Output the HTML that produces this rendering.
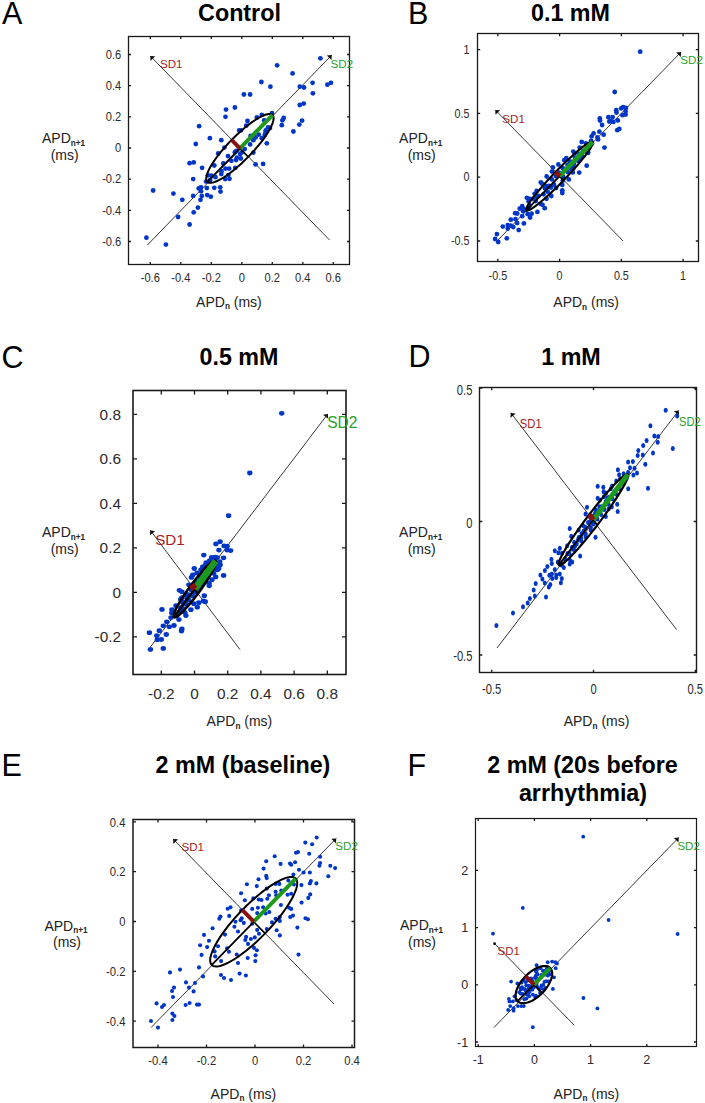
<!DOCTYPE html><html><head><meta charset="utf-8"><style>html,body{margin:0;padding:0;background:#fff;}svg{display:block;font-family:"Liberation Sans", sans-serif;}</style></head><body>
<svg width="705" height="1103" viewBox="0 0 705 1103">
<rect width="705" height="1103" fill="#fff"/>
<text x="2" y="24" font-size="30.5" text-anchor="start" font-weight="normal" fill="#000" >A</text>
<text x="408" y="24" font-size="30.5" text-anchor="start" font-weight="normal" fill="#000" >B</text>
<text x="1.4" y="368" font-size="30.5" text-anchor="start" font-weight="normal" fill="#000" >C</text>
<text x="408.5" y="367" font-size="30.5" text-anchor="start" font-weight="normal" fill="#000" >D</text>
<text x="1.6" y="776" font-size="30.5" text-anchor="start" font-weight="normal" fill="#000" >E</text>
<text x="407.6" y="775.6" font-size="30.5" text-anchor="start" font-weight="normal" fill="#000" >F</text>
<text x="239.5" y="21" font-size="23.3" text-anchor="middle" font-weight="bold" fill="#000" >Control</text>
<text x="570.5" y="21" font-size="23.3" text-anchor="middle" font-weight="bold" fill="#000" >0.1 mM</text>
<text x="239" y="365.3" font-size="23.3" text-anchor="middle" font-weight="bold" fill="#000" >0.5 mM</text>
<text x="571" y="365.3" font-size="23.3" text-anchor="middle" font-weight="bold" fill="#000" >1 mM</text>
<text x="243" y="773" font-size="23.3" text-anchor="middle" font-weight="bold" fill="#000" >2 mM (baseline)</text>
<text x="582.5" y="773" font-size="23.3" text-anchor="middle" font-weight="bold" fill="#000" >2 mM (20s before</text>
<text x="583" y="801" font-size="23.3" text-anchor="middle" font-weight="bold" fill="#000" >arrhythmia)</text>
<line x1="150.3" y1="56" x2="329.5" y2="240" stroke="#383838" stroke-width="1"/>
<path d="M150.3,56 L155.18,56.28 L150.45,60.88 Z" fill="#111"/>
<line x1="147.4" y1="245" x2="331.7" y2="55.1" stroke="#383838" stroke-width="1"/>
<path d="M331.7,55.1 L331.56,59.98 L326.82,55.39 Z" fill="#111"/>
<g fill="#0036c8"><ellipse cx="226" cy="109.6" rx="2.4" ry="2.4"/><ellipse cx="234.9" cy="107.5" rx="2.4" ry="2.4"/><ellipse cx="225.5" cy="116.8" rx="2.4" ry="2.4"/><ellipse cx="199.1" cy="126.2" rx="2.4" ry="2.4"/><ellipse cx="209.9" cy="138.2" rx="2.4" ry="2.4"/><ellipse cx="221.3" cy="140.2" rx="2.4" ry="2.4"/><ellipse cx="195.8" cy="144" rx="2.4" ry="2.4"/><ellipse cx="239.2" cy="130.4" rx="2.4" ry="2.4"/><ellipse cx="320.4" cy="58.3" rx="2.4" ry="2.4"/><ellipse cx="277.1" cy="65.3" rx="2.4" ry="2.4"/><ellipse cx="292.6" cy="73.4" rx="2.4" ry="2.4"/><ellipse cx="261.4" cy="82" rx="2.4" ry="2.4"/><ellipse cx="270.4" cy="86.7" rx="2.4" ry="2.4"/><ellipse cx="312.6" cy="82.8" rx="2.4" ry="2.4"/><ellipse cx="327.4" cy="84.7" rx="2.4" ry="2.4"/><ellipse cx="331" cy="82.8" rx="2.4" ry="2.4"/><ellipse cx="299.8" cy="86.7" rx="2.4" ry="2.4"/><ellipse cx="304" cy="87.5" rx="2.4" ry="2.4"/><ellipse cx="243.9" cy="94.5" rx="2.4" ry="2.4"/><ellipse cx="250.1" cy="94.5" rx="2.4" ry="2.4"/><ellipse cx="312.9" cy="93.3" rx="2.4" ry="2.4"/><ellipse cx="299.8" cy="105" rx="2.4" ry="2.4"/><ellipse cx="303.7" cy="103.6" rx="2.4" ry="2.4"/><ellipse cx="261.8" cy="114.8" rx="2.4" ry="2.4"/><ellipse cx="256.9" cy="117.4" rx="2.4" ry="2.4"/><ellipse cx="247.5" cy="121" rx="2.4" ry="2.4"/><ellipse cx="272" cy="113.2" rx="2.4" ry="2.4"/><ellipse cx="283.7" cy="117.9" rx="2.4" ry="2.4"/><ellipse cx="282.4" cy="120.3" rx="2.4" ry="2.4"/><ellipse cx="302.1" cy="120.6" rx="2.4" ry="2.4"/><ellipse cx="281.8" cy="125.2" rx="2.4" ry="2.4"/><ellipse cx="299.3" cy="124.6" rx="2.4" ry="2.4"/><ellipse cx="293.4" cy="131.5" rx="2.4" ry="2.4"/><ellipse cx="264.2" cy="120.3" rx="2.4" ry="2.4"/><ellipse cx="268.1" cy="127.3" rx="2.4" ry="2.4"/><ellipse cx="265.7" cy="130.4" rx="2.4" ry="2.4"/><ellipse cx="270" cy="128" rx="2.4" ry="2.4"/><ellipse cx="246.2" cy="125.7" rx="2.4" ry="2.4"/><ellipse cx="240.8" cy="130.4" rx="2.4" ry="2.4"/><ellipse cx="250.6" cy="135.9" rx="2.4" ry="2.4"/><ellipse cx="258.7" cy="134.6" rx="2.4" ry="2.4"/><ellipse cx="261.8" cy="138.2" rx="2.4" ry="2.4"/><ellipse cx="264.7" cy="135.1" rx="2.4" ry="2.4"/><ellipse cx="266.8" cy="143.3" rx="2.4" ry="2.4"/><ellipse cx="255.6" cy="137.4" rx="2.4" ry="2.4"/><ellipse cx="253.3" cy="140.2" rx="2.4" ry="2.4"/><ellipse cx="250.1" cy="144.4" rx="2.4" ry="2.4"/><ellipse cx="189.6" cy="163.2" rx="2.4" ry="2.4"/><ellipse cx="193.7" cy="162.4" rx="2.4" ry="2.4"/><ellipse cx="202.1" cy="167.8" rx="2.4" ry="2.4"/><ellipse cx="218.2" cy="153.5" rx="2.4" ry="2.4"/><ellipse cx="228" cy="156.1" rx="2.4" ry="2.4"/><ellipse cx="224.4" cy="147.6" rx="2.4" ry="2.4"/><ellipse cx="223.3" cy="163.5" rx="2.4" ry="2.4"/><ellipse cx="214.3" cy="165.5" rx="2.4" ry="2.4"/><ellipse cx="231.4" cy="160.8" rx="2.4" ry="2.4"/><ellipse cx="236.1" cy="160" rx="2.4" ry="2.4"/><ellipse cx="234.9" cy="152.2" rx="2.4" ry="2.4"/><ellipse cx="225.5" cy="168.6" rx="2.4" ry="2.4"/><ellipse cx="229.1" cy="168.6" rx="2.4" ry="2.4"/><ellipse cx="235.3" cy="167.8" rx="2.4" ry="2.4"/><ellipse cx="221.3" cy="174.1" rx="2.4" ry="2.4"/><ellipse cx="215.5" cy="177.2" rx="2.4" ry="2.4"/><ellipse cx="208" cy="175.3" rx="2.4" ry="2.4"/><ellipse cx="211.4" cy="175.6" rx="2.4" ry="2.4"/><ellipse cx="225.2" cy="179.1" rx="2.4" ry="2.4"/><ellipse cx="229.5" cy="178.8" rx="2.4" ry="2.4"/><ellipse cx="193.2" cy="179.1" rx="2.4" ry="2.4"/><ellipse cx="206.1" cy="181.6" rx="2.4" ry="2.4"/><ellipse cx="153.1" cy="190.5" rx="2.4" ry="2.4"/><ellipse cx="173.4" cy="193.6" rx="2.4" ry="2.4"/><ellipse cx="198.7" cy="188.4" rx="2.4" ry="2.4"/><ellipse cx="201" cy="187.3" rx="2.4" ry="2.4"/><ellipse cx="201" cy="191.2" rx="2.4" ry="2.4"/><ellipse cx="206.8" cy="188.1" rx="2.4" ry="2.4"/><ellipse cx="214.3" cy="187.8" rx="2.4" ry="2.4"/><ellipse cx="220.2" cy="187.3" rx="2.4" ry="2.4"/><ellipse cx="220.5" cy="191.6" rx="2.4" ry="2.4"/><ellipse cx="193.2" cy="195.9" rx="2.4" ry="2.4"/><ellipse cx="201.8" cy="195.9" rx="2.4" ry="2.4"/><ellipse cx="207.2" cy="195.1" rx="2.4" ry="2.4"/><ellipse cx="210.8" cy="196.7" rx="2.4" ry="2.4"/><ellipse cx="182.3" cy="199.8" rx="2.4" ry="2.4"/><ellipse cx="200.5" cy="199.8" rx="2.4" ry="2.4"/><ellipse cx="197.9" cy="207.6" rx="2.4" ry="2.4"/><ellipse cx="193.7" cy="212.3" rx="2.4" ry="2.4"/><ellipse cx="178.1" cy="217" rx="2.4" ry="2.4"/><ellipse cx="189.6" cy="224.5" rx="2.4" ry="2.4"/><ellipse cx="146.4" cy="237.7" rx="2.4" ry="2.4"/><ellipse cx="165.9" cy="244.6" rx="2.4" ry="2.4"/><ellipse cx="255.6" cy="164.4" rx="2.4" ry="2.4"/><ellipse cx="263.1" cy="163.9" rx="2.4" ry="2.4"/><ellipse cx="253.3" cy="152.6" rx="2.4" ry="2.4"/><ellipse cx="240.8" cy="158.5" rx="2.4" ry="2.4"/><ellipse cx="241.6" cy="152.6" rx="2.4" ry="2.4"/><ellipse cx="244.7" cy="149.1" rx="2.4" ry="2.4"/><ellipse cx="265.6" cy="132.3" rx="2.4" ry="2.4"/><ellipse cx="236.4" cy="151" rx="2.4" ry="2.4"/><ellipse cx="240.1" cy="154.1" rx="2.4" ry="2.4"/><ellipse cx="236.9" cy="157.7" rx="2.4" ry="2.4"/><ellipse cx="221.5" cy="171.2" rx="2.4" ry="2.4"/><ellipse cx="228.4" cy="175.1" rx="2.4" ry="2.4"/><ellipse cx="210.1" cy="180.2" rx="2.4" ry="2.4"/></g>
<path d="M272.57,115.02 L272.09,114.62 L271.53,114.32 L270.87,114.1 L270.13,113.99 L269.31,113.96 L268.41,114.03 L267.43,114.2 L266.37,114.45 L265.24,114.81 L264.04,115.25 L262.78,115.78 L261.45,116.41 L260.07,117.12 L258.63,117.92 L257.13,118.8 L255.59,119.76 L254.01,120.8 L252.39,121.92 L250.73,123.11 L249.05,124.36 L247.34,125.69 L245.6,127.07 L243.86,128.52 L242.1,130.02 L240.34,131.57 L238.57,133.16 L236.81,134.8 L235.06,136.47 L233.32,138.18 L231.6,139.92 L229.9,141.68 L228.23,143.45 L226.59,145.24 L224.99,147.04 L223.42,148.85 L221.91,150.65 L220.44,152.44 L219.03,154.23 L217.67,156 L216.37,157.74 L215.14,159.47 L213.98,161.16 L212.89,162.81 L211.87,164.43 L210.93,166.01 L210.06,167.53 L209.28,169 L208.59,170.42 L207.98,171.78 L207.45,173.07 L207.02,174.29 L206.67,175.44 L206.42,176.52 L206.26,177.53 L206.19,178.45 L206.21,179.29 L206.33,180.04 L206.54,180.71 L206.84,181.29 L207.23,181.78 L207.71,182.18 L208.27,182.48 L208.93,182.7 L209.67,182.81 L210.49,182.84 L211.39,182.77 L212.37,182.6 L213.43,182.35 L214.56,181.99 L215.76,181.55 L217.02,181.02 L218.35,180.39 L219.73,179.68 L221.17,178.88 L222.67,178 L224.21,177.04 L225.79,176 L227.41,174.88 L229.07,173.69 L230.75,172.44 L232.46,171.11 L234.2,169.73 L235.94,168.28 L237.7,166.78 L239.46,165.23 L241.23,163.64 L242.99,162 L244.74,160.33 L246.48,158.62 L248.2,156.88 L249.9,155.12 L251.57,153.35 L253.21,151.56 L254.81,149.76 L256.38,147.95 L257.89,146.15 L259.36,144.36 L260.77,142.57 L262.13,140.8 L263.43,139.06 L264.66,137.33 L265.82,135.64 L266.91,133.99 L267.93,132.37 L268.88,130.79 L269.74,129.27 L270.52,127.8 L271.21,126.38 L271.82,125.02 L272.35,123.73 L272.78,122.51 L273.13,121.36 L273.38,120.28 L273.54,119.27 L273.61,118.35 L273.59,117.51 L273.47,116.76 L273.26,116.09 L272.96,115.51 Z" fill="none" stroke="#000" stroke-width="2"/>
<line x1="239.9" y1="148.4" x2="207.23" y2="181.78" stroke="#000" stroke-width="1.6"/>
<line x1="239.9" y1="148.4" x2="248.2" y2="156.88" stroke="#000" stroke-width="1.6"/>
<line x1="239.9" y1="148.4" x2="272.57" y2="115.02" stroke="#1d9a1d" stroke-width="4"/>
<line x1="239.9" y1="148.4" x2="231.6" y2="139.92" stroke="#8c1010" stroke-width="4"/>
<rect x="128.5" y="36.5" width="221" height="228" fill="none" stroke="#1a1a1a" stroke-width="1.3"/>
<path d="M150.3,264.5V261.9M150.3,36.5V39.1M180.8,264.5V261.9M180.8,36.5V39.1M211.3,264.5V261.9M211.3,36.5V39.1M241.8,264.5V261.9M241.8,36.5V39.1M272.3,264.5V261.9M272.3,36.5V39.1M302.8,264.5V261.9M302.8,36.5V39.1M333.3,264.5V261.9M333.3,36.5V39.1M128.5,241.48H131.1M349.5,241.48H346.9M128.5,210.32H131.1M349.5,210.32H346.9M128.5,179.16H131.1M349.5,179.16H346.9M128.5,148H131.1M349.5,148H346.9M128.5,116.84H131.1M349.5,116.84H346.9M128.5,85.68H131.1M349.5,85.68H346.9M128.5,54.52H131.1M349.5,54.52H346.9" stroke="#1a1a1a" stroke-width="1.3" fill="none"/>
<text transform="translate(150.3,282) scale(0.89,1)" font-size="12.5" text-anchor="middle" font-weight="normal" fill="#2a2a2a" >-0.6</text>
<text transform="translate(180.8,282) scale(0.89,1)" font-size="12.5" text-anchor="middle" font-weight="normal" fill="#2a2a2a" >-0.4</text>
<text transform="translate(211.3,282) scale(0.89,1)" font-size="12.5" text-anchor="middle" font-weight="normal" fill="#2a2a2a" >-0.2</text>
<text transform="translate(241.8,282) scale(0.89,1)" font-size="12.5" text-anchor="middle" font-weight="normal" fill="#2a2a2a" >0</text>
<text transform="translate(272.3,282) scale(0.89,1)" font-size="12.5" text-anchor="middle" font-weight="normal" fill="#2a2a2a" >0.2</text>
<text transform="translate(302.8,282) scale(0.89,1)" font-size="12.5" text-anchor="middle" font-weight="normal" fill="#2a2a2a" >0.4</text>
<text transform="translate(333.3,282) scale(0.89,1)" font-size="12.5" text-anchor="middle" font-weight="normal" fill="#2a2a2a" >0.6</text>
<text transform="translate(121.3,245.78) scale(0.89,1)" font-size="12.5" text-anchor="end" font-weight="normal" fill="#2a2a2a" >-0.6</text>
<text transform="translate(121.3,214.62) scale(0.89,1)" font-size="12.5" text-anchor="end" font-weight="normal" fill="#2a2a2a" >-0.4</text>
<text transform="translate(121.3,183.46) scale(0.89,1)" font-size="12.5" text-anchor="end" font-weight="normal" fill="#2a2a2a" >-0.2</text>
<text transform="translate(121.3,152.3) scale(0.89,1)" font-size="12.5" text-anchor="end" font-weight="normal" fill="#2a2a2a" >0</text>
<text transform="translate(121.3,121.14) scale(0.89,1)" font-size="12.5" text-anchor="end" font-weight="normal" fill="#2a2a2a" >0.2</text>
<text transform="translate(121.3,89.98) scale(0.89,1)" font-size="12.5" text-anchor="end" font-weight="normal" fill="#2a2a2a" >0.4</text>
<text transform="translate(121.3,58.82) scale(0.89,1)" font-size="12.5" text-anchor="end" font-weight="normal" fill="#2a2a2a" >0.6</text>
<text x="160" y="68" font-size="11.6" text-anchor="start" font-weight="normal" fill="#a81c1c" >SD1</text>
<text x="330.6" y="68" font-size="11.6" text-anchor="start" font-weight="normal" fill="#2aa02a" >SD2</text>
<text x="42" y="143.1" font-size="14" fill="#222">APD<tspan font-size="8.2" font-weight="bold" dy="2.9">n+1</tspan></text>
<text x="50.7" y="159.8" font-size="14" fill="#222">(ms)</text>
<text x="196.1" y="306.6" font-size="14" fill="#222">APD<tspan font-size="8.2" font-weight="bold" dy="2.6">n</tspan><tspan dy="-2.6"> (ms)</tspan></text>
<line x1="495.3" y1="109.9" x2="623.1" y2="241" stroke="#383838" stroke-width="1"/>
<path d="M495.3,109.9 L500.18,110.17 L495.45,114.78 Z" fill="#111"/>
<line x1="498" y1="240" x2="681" y2="52.1" stroke="#383838" stroke-width="1"/>
<path d="M681,52.1 L680.85,56.98 L676.12,52.38 Z" fill="#111"/>
<g fill="#0036c8"><ellipse cx="546.7" cy="176.5" rx="2.4" ry="2.4"/><ellipse cx="540.8" cy="182.4" rx="2.4" ry="2.4"/><ellipse cx="542.4" cy="183.9" rx="2.4" ry="2.4"/><ellipse cx="536.6" cy="190.9" rx="2.4" ry="2.4"/><ellipse cx="534.6" cy="193.8" rx="2.4" ry="2.4"/><ellipse cx="538.4" cy="196" rx="2.4" ry="2.4"/><ellipse cx="526.9" cy="197.8" rx="2.4" ry="2.4"/><ellipse cx="529.6" cy="198.8" rx="2.4" ry="2.4"/><ellipse cx="528.6" cy="201.3" rx="2.4" ry="2.4"/><ellipse cx="532.6" cy="198.8" rx="2.4" ry="2.4"/><ellipse cx="542.5" cy="204.8" rx="2.4" ry="2.4"/><ellipse cx="544.7" cy="208.2" rx="2.4" ry="2.4"/><ellipse cx="540.6" cy="203.8" rx="2.4" ry="2.4"/><ellipse cx="537.4" cy="211.9" rx="2.4" ry="2.4"/><ellipse cx="522.2" cy="206.2" rx="2.4" ry="2.4"/><ellipse cx="519.7" cy="208.7" rx="2.4" ry="2.4"/><ellipse cx="523.7" cy="209.2" rx="2.4" ry="2.4"/><ellipse cx="523.2" cy="211.2" rx="2.4" ry="2.4"/><ellipse cx="515.2" cy="213.2" rx="2.4" ry="2.4"/><ellipse cx="517.2" cy="213.5" rx="2.4" ry="2.4"/><ellipse cx="522.2" cy="216.2" rx="2.4" ry="2.4"/><ellipse cx="527.7" cy="214.2" rx="2.4" ry="2.4"/><ellipse cx="531.6" cy="213.7" rx="2.4" ry="2.4"/><ellipse cx="530.1" cy="217.5" rx="2.4" ry="2.4"/><ellipse cx="510.8" cy="219.7" rx="2.4" ry="2.4"/><ellipse cx="515.5" cy="219.2" rx="2.4" ry="2.4"/><ellipse cx="517.2" cy="223.1" rx="2.4" ry="2.4"/><ellipse cx="523.9" cy="223.4" rx="2.4" ry="2.4"/><ellipse cx="507.8" cy="225.1" rx="2.4" ry="2.4"/><ellipse cx="502.8" cy="226.6" rx="2.4" ry="2.4"/><ellipse cx="510.8" cy="225.6" rx="2.4" ry="2.4"/><ellipse cx="513.3" cy="227.1" rx="2.4" ry="2.4"/><ellipse cx="507.8" cy="228.6" rx="2.4" ry="2.4"/><ellipse cx="518.7" cy="230.1" rx="2.4" ry="2.4"/><ellipse cx="496.9" cy="234.1" rx="2.4" ry="2.4"/><ellipse cx="506.8" cy="238.3" rx="2.4" ry="2.4"/><ellipse cx="495.1" cy="239" rx="2.4" ry="2.4"/><ellipse cx="546.5" cy="198.8" rx="2.4" ry="2.4"/><ellipse cx="545.5" cy="185.9" rx="2.4" ry="2.4"/><ellipse cx="602.1" cy="125" rx="2.4" ry="2.4"/><ellipse cx="593.6" cy="133.4" rx="2.4" ry="2.4"/><ellipse cx="599.4" cy="131.7" rx="2.4" ry="2.4"/><ellipse cx="603.6" cy="134.7" rx="2.4" ry="2.4"/><ellipse cx="591.6" cy="136.4" rx="2.4" ry="2.4"/><ellipse cx="597.4" cy="137.4" rx="2.4" ry="2.4"/><ellipse cx="598.1" cy="139.4" rx="2.4" ry="2.4"/><ellipse cx="581.7" cy="142" rx="2.4" ry="2.4"/><ellipse cx="585.9" cy="143.3" rx="2.4" ry="2.4"/><ellipse cx="591.1" cy="140.9" rx="2.4" ry="2.4"/><ellipse cx="604.5" cy="147.6" rx="2.4" ry="2.4"/><ellipse cx="579.7" cy="147.6" rx="2.4" ry="2.4"/><ellipse cx="573.3" cy="151.6" rx="2.4" ry="2.4"/><ellipse cx="574.8" cy="153.3" rx="2.4" ry="2.4"/><ellipse cx="588.2" cy="152.8" rx="2.4" ry="2.4"/><ellipse cx="566.3" cy="158.2" rx="2.4" ry="2.4"/><ellipse cx="564.3" cy="160.2" rx="2.4" ry="2.4"/><ellipse cx="569.8" cy="161.7" rx="2.4" ry="2.4"/><ellipse cx="558.4" cy="164.5" rx="2.4" ry="2.4"/><ellipse cx="552.9" cy="167.5" rx="2.4" ry="2.4"/><ellipse cx="551.9" cy="171.6" rx="2.4" ry="2.4"/><ellipse cx="586.7" cy="165.7" rx="2.4" ry="2.4"/><ellipse cx="579.2" cy="172.6" rx="2.4" ry="2.4"/><ellipse cx="572.3" cy="169.7" rx="2.4" ry="2.4"/><ellipse cx="568.8" cy="179.4" rx="2.4" ry="2.4"/><ellipse cx="562.8" cy="180.6" rx="2.4" ry="2.4"/><ellipse cx="551.9" cy="179.4" rx="2.4" ry="2.4"/><ellipse cx="555.9" cy="176.1" rx="2.4" ry="2.4"/><ellipse cx="553.9" cy="184.5" rx="2.4" ry="2.4"/><ellipse cx="548.9" cy="186" rx="2.4" ry="2.4"/><ellipse cx="578.7" cy="159.2" rx="2.4" ry="2.4"/><ellipse cx="581.7" cy="155.7" rx="2.4" ry="2.4"/><ellipse cx="585.2" cy="151.6" rx="2.4" ry="2.4"/><ellipse cx="640.2" cy="51.7" rx="2.4" ry="2.4"/><ellipse cx="614.7" cy="92" rx="2.4" ry="2.4"/><ellipse cx="616.2" cy="110.2" rx="2.4" ry="2.4"/><ellipse cx="616.5" cy="112.6" rx="2.4" ry="2.4"/><ellipse cx="621.2" cy="108.3" rx="2.4" ry="2.4"/><ellipse cx="623.1" cy="107.1" rx="2.4" ry="2.4"/><ellipse cx="625.9" cy="107.9" rx="2.4" ry="2.4"/><ellipse cx="625.6" cy="111.5" rx="2.4" ry="2.4"/><ellipse cx="622.5" cy="115.2" rx="2.4" ry="2.4"/><ellipse cx="625.6" cy="114.6" rx="2.4" ry="2.4"/><ellipse cx="599.8" cy="118.3" rx="2.4" ry="2.4"/><ellipse cx="608.4" cy="117.2" rx="2.4" ry="2.4"/><ellipse cx="612.6" cy="117.2" rx="2.4" ry="2.4"/><ellipse cx="611.1" cy="121.1" rx="2.4" ry="2.4"/><ellipse cx="613.4" cy="121.9" rx="2.4" ry="2.4"/><ellipse cx="617.8" cy="120.4" rx="2.4" ry="2.4"/><ellipse cx="617.3" cy="130.2" rx="2.4" ry="2.4"/><ellipse cx="619.3" cy="128.9" rx="2.4" ry="2.4"/><ellipse cx="600" cy="120.5" rx="2.4" ry="2.4"/><ellipse cx="609.3" cy="121.5" rx="2.4" ry="2.4"/><ellipse cx="498.2" cy="242" rx="2.4" ry="2.4"/><ellipse cx="562.3" cy="190.3" rx="2.4" ry="2.4"/><ellipse cx="562.3" cy="193" rx="2.4" ry="2.4"/><ellipse cx="562.3" cy="184.9" rx="2.4" ry="2.4"/><ellipse cx="551.3" cy="196" rx="2.4" ry="2.4"/><ellipse cx="547.6" cy="191.7" rx="2.4" ry="2.4"/><ellipse cx="556.1" cy="188" rx="2.4" ry="2.4"/><ellipse cx="573.4" cy="167.8" rx="2.4" ry="2.4"/><ellipse cx="572.8" cy="172.4" rx="2.4" ry="2.4"/><ellipse cx="550.87" cy="187.48" rx="2.4" ry="2.4"/><ellipse cx="543.54" cy="194.37" rx="2.4" ry="2.4"/><ellipse cx="535.77" cy="201.09" rx="2.4" ry="2.4"/><ellipse cx="528.66" cy="207.66" rx="2.4" ry="2.4"/><ellipse cx="544.92" cy="188.27" rx="2.4" ry="2.4"/><ellipse cx="536.66" cy="196.9" rx="2.4" ry="2.4"/><ellipse cx="529.56" cy="205.39" rx="2.4" ry="2.4"/><ellipse cx="558.95" cy="172.7" rx="2.4" ry="2.4"/><ellipse cx="563.11" cy="176.7" rx="2.4" ry="2.4"/><ellipse cx="562.84" cy="168.27" rx="2.4" ry="2.4"/><ellipse cx="567.76" cy="172.08" rx="2.4" ry="2.4"/><ellipse cx="567.56" cy="164.95" rx="2.4" ry="2.4"/><ellipse cx="570.72" cy="168.4" rx="2.4" ry="2.4"/><ellipse cx="571.08" cy="161.82" rx="2.4" ry="2.4"/><ellipse cx="573.89" cy="164.06" rx="2.4" ry="2.4"/><ellipse cx="574.93" cy="157.57" rx="2.4" ry="2.4"/><ellipse cx="577.88" cy="160.83" rx="2.4" ry="2.4"/><ellipse cx="579.42" cy="153.81" rx="2.4" ry="2.4"/><ellipse cx="581.31" cy="156.91" rx="2.4" ry="2.4"/><ellipse cx="583.1" cy="150.85" rx="2.4" ry="2.4"/><ellipse cx="587.49" cy="147.36" rx="2.4" ry="2.4"/><ellipse cx="588.81" cy="148.45" rx="2.4" ry="2.4"/><ellipse cx="592" cy="143.43" rx="2.4" ry="2.4"/></g>
<path d="M592.68,141.91 L592.43,141.74 L592.08,141.67 L591.65,141.69 L591.12,141.8 L590.51,142.01 L589.82,142.31 L589.04,142.7 L588.18,143.19 L587.24,143.77 L586.23,144.43 L585.14,145.18 L583.99,146.02 L582.76,146.94 L581.47,147.94 L580.12,149.02 L578.72,150.17 L577.26,151.4 L575.76,152.69 L574.2,154.05 L572.61,155.46 L570.99,156.94 L569.33,158.46 L567.64,160.04 L565.93,161.66 L564.21,163.32 L562.47,165.01 L560.72,166.74 L558.97,168.49 L557.23,170.26 L555.48,172.05 L553.75,173.85 L552.04,175.66 L550.34,177.46 L548.67,179.27 L547.03,181.06 L545.42,182.85 L543.86,184.61 L542.33,186.35 L540.86,188.07 L539.43,189.75 L538.06,191.39 L536.74,193 L535.49,194.55 L534.31,196.06 L533.19,197.51 L532.15,198.9 L531.18,200.23 L530.29,201.5 L529.48,202.69 L528.75,203.82 L528.11,204.86 L527.55,205.83 L527.08,206.72 L526.7,207.53 L526.41,208.24 L526.21,208.87 L526.1,209.41 L526.08,209.86 L526.15,210.22 L526.32,210.49 L526.57,210.66 L526.92,210.73 L527.35,210.71 L527.88,210.6 L528.49,210.39 L529.18,210.09 L529.96,209.7 L530.82,209.21 L531.76,208.63 L532.77,207.97 L533.86,207.22 L535.01,206.38 L536.24,205.46 L537.53,204.46 L538.88,203.38 L540.28,202.23 L541.74,201 L543.24,199.71 L544.8,198.35 L546.39,196.94 L548.01,195.46 L549.67,193.94 L551.36,192.36 L553.07,190.74 L554.79,189.08 L556.53,187.39 L558.28,185.66 L560.03,183.91 L561.77,182.14 L563.52,180.35 L565.25,178.55 L566.96,176.74 L568.66,174.94 L570.33,173.13 L571.97,171.34 L573.58,169.55 L575.14,167.79 L576.67,166.05 L578.14,164.33 L579.57,162.65 L580.94,161.01 L582.26,159.4 L583.51,157.85 L584.69,156.34 L585.81,154.89 L586.85,153.5 L587.82,152.17 L588.71,150.9 L589.52,149.71 L590.25,148.58 L590.89,147.54 L591.45,146.57 L591.92,145.68 L592.3,144.87 L592.59,144.16 L592.79,143.53 L592.9,142.99 L592.92,142.54 L592.85,142.18 Z" fill="none" stroke="#000" stroke-width="2.1"/>
<line x1="559.5" y1="176.2" x2="526.32" y2="210.49" stroke="#000" stroke-width="1.8"/>
<line x1="559.5" y1="176.2" x2="563.52" y2="180.35" stroke="#000" stroke-width="1.8"/>
<line x1="559.5" y1="176.2" x2="592.68" y2="141.91" stroke="#1d9a1d" stroke-width="4.6"/>
<line x1="559.5" y1="176.2" x2="555.48" y2="172.05" stroke="#8c1010" stroke-width="4.6"/>
<rect x="477.5" y="33.5" width="221" height="228" fill="none" stroke="#1a1a1a" stroke-width="1.3"/>
<path d="M497.85,261.5V258.8M497.85,33.5V36.2M559.6,261.5V258.8M559.6,33.5V36.2M621.35,261.5V258.8M621.35,33.5V36.2M683.1,261.5V258.8M683.1,33.5V36.2M477.5,241H480.2M698.5,241H695.8M477.5,177.2H480.2M698.5,177.2H695.8M477.5,113.4H480.2M698.5,113.4H695.8M477.5,49.6H480.2M698.5,49.6H695.8" stroke="#1a1a1a" stroke-width="1.3" fill="none"/>
<text transform="translate(497.85,279.5) scale(0.88,1)" font-size="12.2" text-anchor="middle" font-weight="normal" fill="#2a2a2a" >-0.5</text>
<text transform="translate(559.6,279.5) scale(0.88,1)" font-size="12.2" text-anchor="middle" font-weight="normal" fill="#2a2a2a" >0</text>
<text transform="translate(621.35,279.5) scale(0.88,1)" font-size="12.2" text-anchor="middle" font-weight="normal" fill="#2a2a2a" >0.5</text>
<text transform="translate(683.1,279.5) scale(0.88,1)" font-size="12.2" text-anchor="middle" font-weight="normal" fill="#2a2a2a" >1</text>
<text transform="translate(469.5,245.2) scale(0.88,1)" font-size="12.2" text-anchor="end" font-weight="normal" fill="#2a2a2a" >-0.5</text>
<text transform="translate(469.5,181.4) scale(0.88,1)" font-size="12.2" text-anchor="end" font-weight="normal" fill="#2a2a2a" >0</text>
<text transform="translate(469.5,117.6) scale(0.88,1)" font-size="12.2" text-anchor="end" font-weight="normal" fill="#2a2a2a" >0.5</text>
<text transform="translate(469.5,53.8) scale(0.88,1)" font-size="12.2" text-anchor="end" font-weight="normal" fill="#2a2a2a" >1</text>
<text x="502.3" y="122.8" font-size="11.6" text-anchor="start" font-weight="normal" fill="#a81c1c" >SD1</text>
<text x="680.3" y="64.4" font-size="11.6" text-anchor="start" font-weight="normal" fill="#2aa02a" >SD2</text>
<text x="399.1" y="142.9" font-size="14" fill="#222">APD<tspan font-size="8.2" font-weight="bold" dy="2.9">n+1</tspan></text>
<text x="407.7" y="159.6" font-size="14" fill="#222">(ms)</text>
<text x="553.3" y="306.9" font-size="14" fill="#222">APD<tspan font-size="8.2" font-weight="bold" dy="2.6">n</tspan><tspan dy="-2.6"> (ms)</tspan></text>
<line x1="150.3" y1="530.3" x2="240" y2="649.6" stroke="#383838" stroke-width="1"/>
<path d="M150.3,530.3 L155.1,531.19 L149.83,535.16 Z" fill="#111"/>
<line x1="150.4" y1="647" x2="327.8" y2="414" stroke="#383838" stroke-width="1"/>
<path d="M327.8,414 L328.24,418.86 L322.99,414.87 Z" fill="#111"/>
<g fill="#0036c8"><ellipse cx="281.7" cy="413.3" rx="2.7" ry="2.4"/><ellipse cx="249.8" cy="473" rx="2.7" ry="2.4"/><ellipse cx="228.6" cy="515.7" rx="2.7" ry="2.4"/><ellipse cx="215.9" cy="543.9" rx="2.7" ry="2.4"/><ellipse cx="220.1" cy="541.7" rx="2.7" ry="2.4"/><ellipse cx="224.1" cy="545.9" rx="2.7" ry="2.4"/><ellipse cx="227.1" cy="546.2" rx="2.7" ry="2.4"/><ellipse cx="218.9" cy="550.1" rx="2.7" ry="2.4"/><ellipse cx="227.1" cy="550.1" rx="2.7" ry="2.4"/><ellipse cx="230.6" cy="550.6" rx="2.7" ry="2.4"/><ellipse cx="203.8" cy="555.1" rx="2.7" ry="2.4"/><ellipse cx="223.6" cy="557.8" rx="2.7" ry="2.4"/><ellipse cx="211.7" cy="557.4" rx="2.7" ry="2.4"/><ellipse cx="215.2" cy="557.1" rx="2.7" ry="2.4"/><ellipse cx="217.2" cy="557.6" rx="2.7" ry="2.4"/><ellipse cx="209.7" cy="560.6" rx="2.7" ry="2.4"/><ellipse cx="213.7" cy="559.6" rx="2.7" ry="2.4"/><ellipse cx="206.2" cy="562.6" rx="2.7" ry="2.4"/><ellipse cx="219.7" cy="561.6" rx="2.7" ry="2.4"/><ellipse cx="220.1" cy="565" rx="2.7" ry="2.4"/><ellipse cx="205.3" cy="565.5" rx="2.7" ry="2.4"/><ellipse cx="194.3" cy="568.5" rx="2.7" ry="2.4"/><ellipse cx="218.7" cy="568.5" rx="2.7" ry="2.4"/><ellipse cx="192.8" cy="574.9" rx="2.7" ry="2.4"/><ellipse cx="191.4" cy="577.4" rx="2.7" ry="2.4"/><ellipse cx="197" cy="572.9" rx="2.7" ry="2.4"/><ellipse cx="204.8" cy="568" rx="2.7" ry="2.4"/><ellipse cx="218.7" cy="564" rx="2.7" ry="2.4"/><ellipse cx="223.6" cy="575.4" rx="2.7" ry="2.4"/><ellipse cx="215.7" cy="576.9" rx="2.7" ry="2.4"/><ellipse cx="209.2" cy="585.8" rx="2.7" ry="2.4"/><ellipse cx="188.9" cy="584.8" rx="2.7" ry="2.4"/><ellipse cx="179.4" cy="590.3" rx="2.7" ry="2.4"/><ellipse cx="181.9" cy="591.8" rx="2.7" ry="2.4"/><ellipse cx="204.3" cy="595.7" rx="2.7" ry="2.4"/><ellipse cx="205.3" cy="601.7" rx="2.7" ry="2.4"/><ellipse cx="198.8" cy="602.7" rx="2.7" ry="2.4"/><ellipse cx="197.3" cy="607.2" rx="2.7" ry="2.4"/><ellipse cx="190.9" cy="609.7" rx="2.7" ry="2.4"/><ellipse cx="185.9" cy="615.6" rx="2.7" ry="2.4"/><ellipse cx="181.9" cy="597.7" rx="2.7" ry="2.4"/><ellipse cx="176" cy="605.7" rx="2.7" ry="2.4"/><ellipse cx="172" cy="609.7" rx="2.7" ry="2.4"/><ellipse cx="171" cy="617.6" rx="2.7" ry="2.4"/><ellipse cx="174" cy="625.5" rx="2.7" ry="2.4"/><ellipse cx="181.9" cy="629" rx="2.7" ry="2.4"/><ellipse cx="178.9" cy="619.6" rx="2.7" ry="2.4"/><ellipse cx="184.9" cy="612.6" rx="2.7" ry="2.4"/><ellipse cx="193.8" cy="603.7" rx="2.7" ry="2.4"/><ellipse cx="162" cy="609.4" rx="2.7" ry="2.4"/><ellipse cx="171.7" cy="612.9" rx="2.7" ry="2.4"/><ellipse cx="180.7" cy="599.5" rx="2.7" ry="2.4"/><ellipse cx="166.8" cy="621.8" rx="2.7" ry="2.4"/><ellipse cx="163.3" cy="625.8" rx="2.7" ry="2.4"/><ellipse cx="169.3" cy="626.8" rx="2.7" ry="2.4"/><ellipse cx="159.3" cy="630.7" rx="2.7" ry="2.4"/><ellipse cx="149.4" cy="632.7" rx="2.7" ry="2.4"/><ellipse cx="166.3" cy="634.5" rx="2.7" ry="2.4"/><ellipse cx="156.8" cy="635.7" rx="2.7" ry="2.4"/><ellipse cx="157.3" cy="639.7" rx="2.7" ry="2.4"/><ellipse cx="161.3" cy="639.5" rx="2.7" ry="2.4"/><ellipse cx="181.5" cy="631" rx="2.7" ry="2.4"/><ellipse cx="150.4" cy="649.4" rx="2.7" ry="2.4"/><ellipse cx="163.3" cy="648.4" rx="2.7" ry="2.4"/><ellipse cx="203.5" cy="601" rx="2.7" ry="2.4"/><ellipse cx="180.7" cy="608.9" rx="2.7" ry="2.4"/><ellipse cx="217.6" cy="569.8" rx="2.7" ry="2.4"/><ellipse cx="209.1" cy="583.3" rx="2.7" ry="2.4"/><ellipse cx="202" cy="584.7" rx="2.7" ry="2.4"/><ellipse cx="196.3" cy="582.2" rx="2.7" ry="2.4"/><ellipse cx="201" cy="569.8" rx="2.7" ry="2.4"/><ellipse cx="202.7" cy="567" rx="2.7" ry="2.4"/><ellipse cx="213.7" cy="573.3" rx="2.7" ry="2.4"/><ellipse cx="215.5" cy="569.1" rx="2.7" ry="2.4"/><ellipse cx="212" cy="579.7" rx="2.7" ry="2.4"/><ellipse cx="212" cy="570" rx="2.7" ry="2.4"/><ellipse cx="200" cy="580" rx="2.7" ry="2.4"/><ellipse cx="196" cy="585" rx="2.7" ry="2.4"/><ellipse cx="186" cy="595" rx="2.7" ry="2.4"/><ellipse cx="183" cy="603" rx="2.7" ry="2.4"/><ellipse cx="201" cy="576" rx="2.7" ry="2.4"/><ellipse cx="207" cy="574" rx="2.7" ry="2.4"/><ellipse cx="194.77" cy="592.29" rx="2.7" ry="2.4"/><ellipse cx="191.53" cy="590.04" rx="2.7" ry="2.4"/><ellipse cx="192.17" cy="595.69" rx="2.7" ry="2.4"/><ellipse cx="188.51" cy="594.62" rx="2.7" ry="2.4"/><ellipse cx="188.67" cy="599.88" rx="2.7" ry="2.4"/><ellipse cx="187.09" cy="598.48" rx="2.7" ry="2.4"/><ellipse cx="186.3" cy="604.15" rx="2.7" ry="2.4"/><ellipse cx="184.07" cy="602.4" rx="2.7" ry="2.4"/><ellipse cx="183" cy="608.61" rx="2.7" ry="2.4"/><ellipse cx="181.33" cy="607.41" rx="2.7" ry="2.4"/><ellipse cx="179.98" cy="611.63" rx="2.7" ry="2.4"/><ellipse cx="176.63" cy="615.68" rx="2.7" ry="2.4"/><ellipse cx="193.68" cy="584.77" rx="2.7" ry="2.4"/><ellipse cx="198.51" cy="588.62" rx="2.7" ry="2.4"/><ellipse cx="201.01" cy="578.01" rx="2.7" ry="2.4"/><ellipse cx="204.1" cy="580.82" rx="2.7" ry="2.4"/><ellipse cx="203.64" cy="574.42" rx="2.7" ry="2.4"/><ellipse cx="206.42" cy="577.63" rx="2.7" ry="2.4"/><ellipse cx="207.78" cy="571.8" rx="2.7" ry="2.4"/><ellipse cx="209.83" cy="572.77" rx="2.7" ry="2.4"/><ellipse cx="210.5" cy="568.13" rx="2.7" ry="2.4"/><ellipse cx="214.32" cy="563.86" rx="2.7" ry="2.4"/><ellipse cx="215.23" cy="565.57" rx="2.7" ry="2.4"/></g>
<path d="M215.69,561 L215.49,560.8 L215.24,560.69 L214.92,560.65 L214.55,560.69 L214.13,560.81 L213.66,561 L213.13,561.28 L212.55,561.62 L211.92,562.05 L211.25,562.54 L210.53,563.11 L209.77,563.75 L208.97,564.46 L208.13,565.24 L207.25,566.08 L206.34,566.99 L205.39,567.95 L204.42,568.98 L203.42,570.05 L202.4,571.18 L201.36,572.36 L200.3,573.58 L199.22,574.85 L198.13,576.16 L197.03,577.5 L195.93,578.87 L194.82,580.27 L193.72,581.69 L192.61,583.14 L191.51,584.59 L190.42,586.07 L189.35,587.55 L188.29,589.03 L187.24,590.51 L186.22,591.99 L185.22,593.46 L184.24,594.92 L183.3,596.37 L182.39,597.79 L181.51,599.19 L180.66,600.56 L179.86,601.9 L179.1,603.2 L178.38,604.47 L177.7,605.69 L177.07,606.86 L176.49,607.99 L175.96,609.07 L175.49,610.09 L175.06,611.05 L174.69,611.95 L174.38,612.79 L174.12,613.57 L173.91,614.27 L173.77,614.91 L173.68,615.48 L173.65,615.97 L173.68,616.39 L173.76,616.74 L173.91,617 L174.11,617.2 L174.36,617.31 L174.68,617.35 L175.05,617.31 L175.47,617.19 L175.94,617 L176.47,616.72 L177.05,616.38 L177.68,615.95 L178.35,615.46 L179.07,614.89 L179.83,614.25 L180.63,613.54 L181.47,612.76 L182.35,611.92 L183.26,611.01 L184.21,610.05 L185.18,609.02 L186.18,607.95 L187.2,606.82 L188.24,605.64 L189.3,604.42 L190.38,603.15 L191.47,601.84 L192.57,600.5 L193.67,599.13 L194.78,597.73 L195.88,596.31 L196.99,594.86 L198.09,593.41 L199.18,591.93 L200.25,590.45 L201.31,588.97 L202.36,587.49 L203.38,586.01 L204.38,584.54 L205.36,583.08 L206.3,581.63 L207.21,580.21 L208.09,578.81 L208.94,577.44 L209.74,576.1 L210.5,574.8 L211.22,573.53 L211.9,572.31 L212.53,571.14 L213.11,570.01 L213.64,568.93 L214.11,567.91 L214.54,566.95 L214.91,566.05 L215.22,565.21 L215.48,564.43 L215.69,563.73 L215.83,563.09 L215.92,562.52 L215.95,562.03 L215.92,561.61 L215.84,561.26 Z" fill="none" stroke="#000" stroke-width="2.6"/>
<line x1="194.8" y1="589" x2="173.91" y2="617" stroke="#000" stroke-width="2.2"/>
<line x1="194.8" y1="589" x2="198.09" y2="593.41" stroke="#000" stroke-width="2.2"/>
<line x1="194.8" y1="589" x2="215.69" y2="561" stroke="#1d9a1d" stroke-width="6.4"/>
<line x1="194.8" y1="589" x2="191.51" y2="584.59" stroke="#8c1010" stroke-width="6.4"/>
<rect x="133" y="390.5" width="213" height="284" fill="none" stroke="#1a1a1a" stroke-width="1.6"/>
<path d="M161.3,674.5V670.5M161.3,390.5V394.5M194.5,674.5V670.5M194.5,390.5V394.5M227.7,674.5V670.5M227.7,390.5V394.5M260.9,674.5V670.5M260.9,390.5V394.5M294.1,674.5V670.5M294.1,390.5V394.5M327.3,674.5V670.5M327.3,390.5V394.5M133,636.9H137M346,636.9H342M133,592.4H137M346,592.4H342M133,547.9H137M346,547.9H342M133,503.4H137M346,503.4H342M133,458.9H137M346,458.9H342M133,414.4H137M346,414.4H342" stroke="#1a1a1a" stroke-width="1.3" fill="none"/>
<text transform="translate(161.3,698.6) scale(1.04,1)" font-size="14.8" text-anchor="middle" font-weight="normal" fill="#2a2a2a" >-0.2</text>
<text transform="translate(194.5,698.6) scale(1.04,1)" font-size="14.8" text-anchor="middle" font-weight="normal" fill="#2a2a2a" >0</text>
<text transform="translate(227.7,698.6) scale(1.04,1)" font-size="14.8" text-anchor="middle" font-weight="normal" fill="#2a2a2a" >0.2</text>
<text transform="translate(260.9,698.6) scale(1.04,1)" font-size="14.8" text-anchor="middle" font-weight="normal" fill="#2a2a2a" >0.4</text>
<text transform="translate(294.1,698.6) scale(1.04,1)" font-size="14.8" text-anchor="middle" font-weight="normal" fill="#2a2a2a" >0.6</text>
<text transform="translate(327.3,698.6) scale(1.04,1)" font-size="14.8" text-anchor="middle" font-weight="normal" fill="#2a2a2a" >0.8</text>
<text transform="translate(121,642) scale(1.04,1)" font-size="14.8" text-anchor="end" font-weight="normal" fill="#2a2a2a" >-0.2</text>
<text transform="translate(121,597.5) scale(1.04,1)" font-size="14.8" text-anchor="end" font-weight="normal" fill="#2a2a2a" >0</text>
<text transform="translate(121,553) scale(1.04,1)" font-size="14.8" text-anchor="end" font-weight="normal" fill="#2a2a2a" >0.2</text>
<text transform="translate(121,508.5) scale(1.04,1)" font-size="14.8" text-anchor="end" font-weight="normal" fill="#2a2a2a" >0.4</text>
<text transform="translate(121,464) scale(1.04,1)" font-size="14.8" text-anchor="end" font-weight="normal" fill="#2a2a2a" >0.6</text>
<text transform="translate(121,419.5) scale(1.04,1)" font-size="14.8" text-anchor="end" font-weight="normal" fill="#2a2a2a" >0.8</text>
<text x="155.2" y="545.2" font-size="15.2" text-anchor="start" font-weight="normal" fill="#a81c1c" >SD1</text>
<text x="327.2" y="428.4" font-size="15.6" text-anchor="start" font-weight="normal" fill="#2aa02a" >SD2</text>
<text x="42" y="536.6" font-size="14" fill="#222">APD<tspan font-size="8.2" font-weight="bold" dy="2.9">n+1</tspan></text>
<text x="50.7" y="553.7" font-size="14" fill="#222">(ms)</text>
<text x="206.6" y="726.4" font-size="14" fill="#222">APD<tspan font-size="8.2" font-weight="bold" dy="2.6">n</tspan><tspan dy="-2.6"> (ms)</tspan></text>
<line x1="510.8" y1="412.8" x2="676.6" y2="629.6" stroke="#383838" stroke-width="1"/>
<path d="M510.8,412.8 L515.61,413.65 L510.37,417.66 Z" fill="#111"/>
<line x1="497" y1="648" x2="678.7" y2="410.5" stroke="#383838" stroke-width="1"/>
<path d="M678.7,410.5 L679.13,415.36 L673.89,411.35 Z" fill="#111"/>
<g fill="#0036c8"><ellipse cx="665.7" cy="410.3" rx="2.0" ry="2.5"/><ellipse cx="677.2" cy="416.1" rx="2.0" ry="2.5"/><ellipse cx="650.4" cy="425.7" rx="2.0" ry="2.5"/><ellipse cx="654.3" cy="435.9" rx="2.0" ry="2.5"/><ellipse cx="658.1" cy="436.5" rx="2.0" ry="2.5"/><ellipse cx="657.7" cy="442.3" rx="2.0" ry="2.5"/><ellipse cx="646.6" cy="440.6" rx="2.0" ry="2.5"/><ellipse cx="643.2" cy="445.4" rx="2.0" ry="2.5"/><ellipse cx="638.3" cy="450.6" rx="2.0" ry="2.5"/><ellipse cx="637.7" cy="455.4" rx="2.0" ry="2.5"/><ellipse cx="642.8" cy="455" rx="2.0" ry="2.5"/><ellipse cx="653" cy="452.9" rx="2.0" ry="2.5"/><ellipse cx="672.8" cy="448.6" rx="2.0" ry="2.5"/><ellipse cx="645.3" cy="464.3" rx="2.0" ry="2.5"/><ellipse cx="628.1" cy="462" rx="2.0" ry="2.5"/><ellipse cx="632.9" cy="461.4" rx="2.0" ry="2.5"/><ellipse cx="630" cy="467.8" rx="2.0" ry="2.5"/><ellipse cx="634.5" cy="468.2" rx="2.0" ry="2.5"/><ellipse cx="617.9" cy="469.7" rx="2.0" ry="2.5"/><ellipse cx="619.1" cy="474.8" rx="2.0" ry="2.5"/><ellipse cx="623.6" cy="473.8" rx="2.0" ry="2.5"/><ellipse cx="628.1" cy="472.3" rx="2.0" ry="2.5"/><ellipse cx="633.4" cy="475.1" rx="2.0" ry="2.5"/><ellipse cx="637" cy="472.9" rx="2.0" ry="2.5"/><ellipse cx="616.2" cy="480.9" rx="2.0" ry="2.5"/><ellipse cx="597.7" cy="486.3" rx="2.0" ry="2.5"/><ellipse cx="603.3" cy="487.3" rx="2.0" ry="2.5"/><ellipse cx="603.6" cy="491.8" rx="2.0" ry="2.5"/><ellipse cx="610.8" cy="488.8" rx="2.0" ry="2.5"/><ellipse cx="628.2" cy="488.8" rx="2.0" ry="2.5"/><ellipse cx="648" cy="488.3" rx="2.0" ry="2.5"/><ellipse cx="597.7" cy="498.2" rx="2.0" ry="2.5"/><ellipse cx="603.8" cy="496.7" rx="2.0" ry="2.5"/><ellipse cx="607.3" cy="497.7" rx="2.0" ry="2.5"/><ellipse cx="617.2" cy="504.2" rx="2.0" ry="2.5"/><ellipse cx="617.7" cy="511.6" rx="2.0" ry="2.5"/><ellipse cx="587" cy="507.2" rx="2.0" ry="2.5"/><ellipse cx="599.4" cy="506.7" rx="2.0" ry="2.5"/><ellipse cx="585.5" cy="514.1" rx="2.0" ry="2.5"/><ellipse cx="594.9" cy="513.6" rx="2.0" ry="2.5"/><ellipse cx="608.8" cy="508.7" rx="2.0" ry="2.5"/><ellipse cx="611.8" cy="506.7" rx="2.0" ry="2.5"/><ellipse cx="605.8" cy="516.6" rx="2.0" ry="2.5"/><ellipse cx="588" cy="522.6" rx="2.0" ry="2.5"/><ellipse cx="583" cy="525.5" rx="2.0" ry="2.5"/><ellipse cx="590.9" cy="527.5" rx="2.0" ry="2.5"/><ellipse cx="569.7" cy="528.4" rx="2.0" ry="2.5"/><ellipse cx="578.7" cy="529.9" rx="2.0" ry="2.5"/><ellipse cx="583.6" cy="530.9" rx="2.0" ry="2.5"/><ellipse cx="585.1" cy="526.9" rx="2.0" ry="2.5"/><ellipse cx="590.6" cy="529.9" rx="2.0" ry="2.5"/><ellipse cx="595.5" cy="537.3" rx="2.0" ry="2.5"/><ellipse cx="571.2" cy="536.3" rx="2.0" ry="2.5"/><ellipse cx="581.6" cy="533.8" rx="2.0" ry="2.5"/><ellipse cx="585.6" cy="536.8" rx="2.0" ry="2.5"/><ellipse cx="578.2" cy="539.3" rx="2.0" ry="2.5"/><ellipse cx="581.1" cy="540.8" rx="2.0" ry="2.5"/><ellipse cx="574.2" cy="542.3" rx="2.0" ry="2.5"/><ellipse cx="567.2" cy="545.7" rx="2.0" ry="2.5"/><ellipse cx="575.2" cy="545.7" rx="2.0" ry="2.5"/><ellipse cx="574.2" cy="550.2" rx="2.0" ry="2.5"/><ellipse cx="559.8" cy="548.2" rx="2.0" ry="2.5"/><ellipse cx="554.8" cy="550.7" rx="2.0" ry="2.5"/><ellipse cx="558.3" cy="552.7" rx="2.0" ry="2.5"/><ellipse cx="561.8" cy="553.2" rx="2.0" ry="2.5"/><ellipse cx="580.1" cy="555.9" rx="2.0" ry="2.5"/><ellipse cx="551.4" cy="559.2" rx="2.0" ry="2.5"/><ellipse cx="551.8" cy="563.6" rx="2.0" ry="2.5"/><ellipse cx="557.8" cy="562.1" rx="2.0" ry="2.5"/><ellipse cx="570.2" cy="560.6" rx="2.0" ry="2.5"/><ellipse cx="572.2" cy="562.1" rx="2.0" ry="2.5"/><ellipse cx="569.7" cy="564.1" rx="2.0" ry="2.5"/><ellipse cx="563.8" cy="567.4" rx="2.0" ry="2.5"/><ellipse cx="547.4" cy="566.6" rx="2.0" ry="2.5"/><ellipse cx="544.9" cy="570.6" rx="2.0" ry="2.5"/><ellipse cx="554.8" cy="569.4" rx="2.0" ry="2.5"/><ellipse cx="540.4" cy="575" rx="2.0" ry="2.5"/><ellipse cx="549.4" cy="575.3" rx="2.0" ry="2.5"/><ellipse cx="556.3" cy="575" rx="2.0" ry="2.5"/><ellipse cx="559.8" cy="574.1" rx="2.0" ry="2.5"/><ellipse cx="561.8" cy="578.5" rx="2.0" ry="2.5"/><ellipse cx="542.4" cy="579" rx="2.0" ry="2.5"/><ellipse cx="551.8" cy="573.9" rx="2.0" ry="2.5"/><ellipse cx="552.3" cy="578.4" rx="2.0" ry="2.5"/><ellipse cx="556.2" cy="577.4" rx="2.0" ry="2.5"/><ellipse cx="560.9" cy="582.7" rx="2.0" ry="2.5"/><ellipse cx="544.8" cy="582.9" rx="2.0" ry="2.5"/><ellipse cx="535.7" cy="583.4" rx="2.0" ry="2.5"/><ellipse cx="550.3" cy="584.4" rx="2.0" ry="2.5"/><ellipse cx="548.8" cy="587" rx="2.0" ry="2.5"/><ellipse cx="533.7" cy="590" rx="2.0" ry="2.5"/><ellipse cx="534.9" cy="596" rx="2.0" ry="2.5"/><ellipse cx="546" cy="597" rx="2.0" ry="2.5"/><ellipse cx="529.9" cy="598.6" rx="2.0" ry="2.5"/><ellipse cx="527.7" cy="602.9" rx="2.0" ry="2.5"/><ellipse cx="523" cy="606.7" rx="2.0" ry="2.5"/><ellipse cx="496.4" cy="625.4" rx="2.0" ry="2.5"/><ellipse cx="513" cy="613" rx="2.0" ry="2.5"/><ellipse cx="600" cy="500" rx="2.0" ry="2.5"/><ellipse cx="606" cy="493" rx="2.0" ry="2.5"/><ellipse cx="612" cy="486" rx="2.0" ry="2.5"/><ellipse cx="620" cy="479" rx="2.0" ry="2.5"/><ellipse cx="596" cy="510" rx="2.0" ry="2.5"/><ellipse cx="590" cy="517" rx="2.0" ry="2.5"/><ellipse cx="593.4" cy="524.03" rx="2.0" ry="2.5"/><ellipse cx="589.92" cy="521.59" rx="2.0" ry="2.5"/><ellipse cx="585.84" cy="534.04" rx="2.0" ry="2.5"/><ellipse cx="581.3" cy="538.61" rx="2.0" ry="2.5"/><ellipse cx="578.87" cy="537.17" rx="2.0" ry="2.5"/><ellipse cx="576.78" cy="543.64" rx="2.0" ry="2.5"/><ellipse cx="573.71" cy="548.63" rx="2.0" ry="2.5"/><ellipse cx="572.01" cy="547.33" rx="2.0" ry="2.5"/><ellipse cx="569.56" cy="553.65" rx="2.0" ry="2.5"/><ellipse cx="567.47" cy="553.55" rx="2.0" ry="2.5"/><ellipse cx="565.1" cy="558.81" rx="2.0" ry="2.5"/><ellipse cx="561.42" cy="564.91" rx="2.0" ry="2.5"/><ellipse cx="560.75" cy="563.86" rx="2.0" ry="2.5"/><ellipse cx="593.39" cy="515.98" rx="2.0" ry="2.5"/><ellipse cx="597.45" cy="518.9" rx="2.0" ry="2.5"/><ellipse cx="596.57" cy="511.16" rx="2.0" ry="2.5"/><ellipse cx="601.1" cy="514.48" rx="2.0" ry="2.5"/><ellipse cx="601.15" cy="506.65" rx="2.0" ry="2.5"/><ellipse cx="604.53" cy="509.52" rx="2.0" ry="2.5"/><ellipse cx="605.71" cy="501.59" rx="2.0" ry="2.5"/><ellipse cx="608.51" cy="504.37" rx="2.0" ry="2.5"/><ellipse cx="609.2" cy="497.13" rx="2.0" ry="2.5"/><ellipse cx="612.5" cy="498.86" rx="2.0" ry="2.5"/><ellipse cx="614.06" cy="492.65" rx="2.0" ry="2.5"/><ellipse cx="616.21" cy="493.93" rx="2.0" ry="2.5"/><ellipse cx="617.35" cy="488.16" rx="2.0" ry="2.5"/><ellipse cx="619.83" cy="489.05" rx="2.0" ry="2.5"/><ellipse cx="621.48" cy="482.8" rx="2.0" ry="2.5"/><ellipse cx="623.3" cy="483.85" rx="2.0" ry="2.5"/><ellipse cx="626.41" cy="478.45" rx="2.0" ry="2.5"/></g>
<path d="M627.85,474.49 L627.59,474.27 L627.24,474.18 L626.8,474.22 L626.26,474.38 L625.63,474.66 L624.92,475.07 L624.11,475.6 L623.23,476.26 L622.26,477.03 L621.21,477.92 L620.08,478.92 L618.88,480.04 L617.62,481.26 L616.28,482.59 L614.88,484.02 L613.42,485.55 L611.91,487.18 L610.35,488.89 L608.74,490.69 L607.09,492.57 L605.39,494.52 L603.67,496.54 L601.92,498.63 L600.14,500.77 L598.35,502.97 L596.54,505.21 L594.72,507.49 L592.9,509.81 L591.08,512.15 L589.27,514.51 L587.47,516.89 L585.68,519.28 L583.91,521.67 L582.17,524.05 L580.46,526.42 L578.79,528.77 L577.15,531.1 L575.56,533.4 L574.02,535.66 L572.53,537.88 L571.1,540.04 L569.73,542.16 L568.42,544.21 L567.18,546.19 L566.02,548.1 L564.93,549.94 L563.91,551.69 L562.98,553.35 L562.13,554.92 L561.36,556.4 L560.68,557.77 L560.1,559.04 L559.6,560.21 L559.19,561.26 L558.88,562.2 L558.66,563.02 L558.54,563.73 L558.52,564.31 L558.58,564.77 L558.75,565.11 L559.01,565.33 L559.36,565.42 L559.8,565.38 L560.34,565.22 L560.97,564.94 L561.68,564.53 L562.49,564 L563.37,563.34 L564.34,562.57 L565.39,561.68 L566.52,560.68 L567.72,559.56 L568.98,558.34 L570.32,557.01 L571.72,555.58 L573.18,554.05 L574.69,552.42 L576.25,550.71 L577.86,548.91 L579.51,547.03 L581.21,545.08 L582.93,543.06 L584.68,540.97 L586.46,538.83 L588.25,536.63 L590.06,534.39 L591.88,532.11 L593.7,529.79 L595.52,527.45 L597.33,525.09 L599.13,522.71 L600.92,520.32 L602.69,517.93 L604.43,515.55 L606.14,513.18 L607.81,510.83 L609.45,508.5 L611.04,506.2 L612.58,503.94 L614.07,501.72 L615.5,499.56 L616.87,497.44 L618.18,495.39 L619.42,493.41 L620.58,491.5 L621.67,489.66 L622.69,487.91 L623.62,486.25 L624.47,484.68 L625.24,483.2 L625.92,481.83 L626.5,480.56 L627,479.39 L627.41,478.34 L627.72,477.4 L627.94,476.58 L628.06,475.87 L628.08,475.29 L628.02,474.83 Z" fill="none" stroke="#000" stroke-width="2.2"/>
<line x1="593.3" y1="519.8" x2="558.75" y2="565.11" stroke="#000" stroke-width="1.8"/>
<line x1="593.3" y1="519.8" x2="597.33" y2="525.09" stroke="#000" stroke-width="1.8"/>
<line x1="593.3" y1="519.8" x2="627.85" y2="474.49" stroke="#1d9a1d" stroke-width="5"/>
<line x1="593.3" y1="519.8" x2="589.27" y2="514.51" stroke="#8c1010" stroke-width="5"/>
<rect x="479.5" y="387.5" width="217" height="285" fill="none" stroke="#1a1a1a" stroke-width="1.4"/>
<path d="M491.7,672.5V669.7M491.7,387.5V390.3M593.5,672.5V669.7M593.5,387.5V390.3M695.3,672.5V669.7M695.3,387.5V390.3M479.5,655H482.3M696.5,655H693.7M479.5,521.5H482.3M696.5,521.5H693.7M479.5,388H482.3M696.5,388H693.7" stroke="#1a1a1a" stroke-width="1.3" fill="none"/>
<text transform="translate(491.7,693.6) scale(0.77,1)" font-size="14.5" text-anchor="middle" font-weight="normal" fill="#2a2a2a" >-0.5</text>
<text transform="translate(593.5,693.6) scale(0.77,1)" font-size="14.5" text-anchor="middle" font-weight="normal" fill="#2a2a2a" >0</text>
<text transform="translate(695.3,693.6) scale(0.77,1)" font-size="14.5" text-anchor="middle" font-weight="normal" fill="#2a2a2a" >0.5</text>
<text transform="translate(472.4,661.3) scale(0.77,1)" font-size="14.5" text-anchor="end" font-weight="normal" fill="#2a2a2a" >-0.5</text>
<text transform="translate(472.4,527.8) scale(0.77,1)" font-size="14.5" text-anchor="end" font-weight="normal" fill="#2a2a2a" >0</text>
<text transform="translate(472.4,394.8) scale(0.77,1)" font-size="14.5" text-anchor="end" font-weight="normal" fill="#2a2a2a" >0.5</text>
<text transform="translate(519.8,427.8) scale(0.85,1)" font-size="13.2" text-anchor="start" font-weight="normal" fill="#a81c1c" >SD1</text>
<text transform="translate(679,426) scale(0.85,1)" font-size="13.2" text-anchor="start" font-weight="normal" fill="#2aa02a" >SD2</text>
<text x="399.1" y="537.4" font-size="14" fill="#222">APD<tspan font-size="8.2" font-weight="bold" dy="2.9">n+1</tspan></text>
<text x="407.7" y="554" font-size="14" fill="#222">(ms)</text>
<text x="563.7" y="725.9" font-size="14" fill="#222">APD<tspan font-size="8.2" font-weight="bold" dy="2.6">n</tspan><tspan dy="-2.6"> (ms)</tspan></text>
<line x1="173.2" y1="839" x2="334" y2="1004" stroke="#383838" stroke-width="1"/>
<path d="M173.2,839 L178.08,839.28 L173.35,843.88 Z" fill="#111"/>
<line x1="151" y1="1027.6" x2="336.2" y2="838.5" stroke="#383838" stroke-width="1"/>
<path d="M336.2,838.5 L336.04,843.38 L331.32,838.76 Z" fill="#111"/>
<g fill="#0036c8"><ellipse cx="170" cy="972.4" rx="2.05" ry="2.05"/><ellipse cx="180" cy="969.6" rx="2.05" ry="2.05"/><ellipse cx="199" cy="967.4" rx="2.05" ry="2.05"/><ellipse cx="203" cy="976.4" rx="2.05" ry="2.05"/><ellipse cx="186" cy="982.4" rx="2.05" ry="2.05"/><ellipse cx="195" cy="983" rx="2.05" ry="2.05"/><ellipse cx="174" cy="987.6" rx="2.05" ry="2.05"/><ellipse cx="172" cy="991" rx="2.05" ry="2.05"/><ellipse cx="189" cy="987.6" rx="2.05" ry="2.05"/><ellipse cx="193.6" cy="991.4" rx="2.05" ry="2.05"/><ellipse cx="173" cy="997" rx="2.05" ry="2.05"/><ellipse cx="156.6" cy="1003.4" rx="2.05" ry="2.05"/><ellipse cx="162" cy="1007" rx="2.05" ry="2.05"/><ellipse cx="164" cy="1005" rx="2.05" ry="2.05"/><ellipse cx="185.6" cy="1005" rx="2.05" ry="2.05"/><ellipse cx="189.6" cy="1003" rx="2.05" ry="2.05"/><ellipse cx="197" cy="1004.6" rx="2.05" ry="2.05"/><ellipse cx="199" cy="1004.6" rx="2.05" ry="2.05"/><ellipse cx="172.4" cy="1013.6" rx="2.05" ry="2.05"/><ellipse cx="174.4" cy="1016" rx="2.05" ry="2.05"/><ellipse cx="172.4" cy="1020" rx="2.05" ry="2.05"/><ellipse cx="151" cy="1021" rx="2.05" ry="2.05"/><ellipse cx="158" cy="1027.6" rx="2.05" ry="2.05"/><ellipse cx="221" cy="975" rx="2.05" ry="2.05"/><ellipse cx="224" cy="978" rx="2.05" ry="2.05"/><ellipse cx="231" cy="980" rx="2.05" ry="2.05"/><ellipse cx="239.6" cy="973.6" rx="2.05" ry="2.05"/><ellipse cx="238" cy="963" rx="2.05" ry="2.05"/><ellipse cx="316.7" cy="837.5" rx="2.05" ry="2.05"/><ellipse cx="305.3" cy="842.6" rx="2.05" ry="2.05"/><ellipse cx="312.1" cy="844.3" rx="2.05" ry="2.05"/><ellipse cx="296" cy="852.8" rx="2.05" ry="2.05"/><ellipse cx="298" cy="852.1" rx="2.05" ry="2.05"/><ellipse cx="309.2" cy="853.8" rx="2.05" ry="2.05"/><ellipse cx="274.7" cy="856.2" rx="2.05" ry="2.05"/><ellipse cx="320.1" cy="856.7" rx="2.05" ry="2.05"/><ellipse cx="266.2" cy="861.3" rx="2.05" ry="2.05"/><ellipse cx="280.6" cy="863.9" rx="2.05" ry="2.05"/><ellipse cx="290" cy="863.5" rx="2.05" ry="2.05"/><ellipse cx="295.1" cy="862.3" rx="2.05" ry="2.05"/><ellipse cx="291.2" cy="864.7" rx="2.05" ry="2.05"/><ellipse cx="320.1" cy="863" rx="2.05" ry="2.05"/><ellipse cx="319.4" cy="865.7" rx="2.05" ry="2.05"/><ellipse cx="330.3" cy="865.7" rx="2.05" ry="2.05"/><ellipse cx="335.1" cy="868.1" rx="2.05" ry="2.05"/><ellipse cx="263.6" cy="868.6" rx="2.05" ry="2.05"/><ellipse cx="299" cy="869.8" rx="2.05" ry="2.05"/><ellipse cx="303.6" cy="872.5" rx="2.05" ry="2.05"/><ellipse cx="309.9" cy="872.5" rx="2.05" ry="2.05"/><ellipse cx="266.2" cy="875.9" rx="2.05" ry="2.05"/><ellipse cx="258.5" cy="879.3" rx="2.05" ry="2.05"/><ellipse cx="293.4" cy="874.6" rx="2.05" ry="2.05"/><ellipse cx="328.3" cy="876.3" rx="2.05" ry="2.05"/><ellipse cx="310.9" cy="881" rx="2.05" ry="2.05"/><ellipse cx="309.9" cy="883.4" rx="2.05" ry="2.05"/><ellipse cx="316.4" cy="883.4" rx="2.05" ry="2.05"/><ellipse cx="256.8" cy="886.1" rx="2.05" ry="2.05"/><ellipse cx="275.5" cy="883.9" rx="2.05" ry="2.05"/><ellipse cx="279.3" cy="883.9" rx="2.05" ry="2.05"/><ellipse cx="288.3" cy="880.5" rx="2.05" ry="2.05"/><ellipse cx="293.9" cy="884.4" rx="2.05" ry="2.05"/><ellipse cx="301.4" cy="885.1" rx="2.05" ry="2.05"/><ellipse cx="266.7" cy="878.1" rx="2.05" ry="2.05"/><ellipse cx="246.9" cy="884.3" rx="2.05" ry="2.05"/><ellipse cx="241.1" cy="893.2" rx="2.05" ry="2.05"/><ellipse cx="244.9" cy="900.2" rx="2.05" ry="2.05"/><ellipse cx="227.7" cy="908.8" rx="2.05" ry="2.05"/><ellipse cx="230.5" cy="907.3" rx="2.05" ry="2.05"/><ellipse cx="220.4" cy="916.6" rx="2.05" ry="2.05"/><ellipse cx="219.3" cy="918.7" rx="2.05" ry="2.05"/><ellipse cx="229.2" cy="915.9" rx="2.05" ry="2.05"/><ellipse cx="241.1" cy="910.4" rx="2.05" ry="2.05"/><ellipse cx="241.7" cy="918.2" rx="2.05" ry="2.05"/><ellipse cx="240.6" cy="920.2" rx="2.05" ry="2.05"/><ellipse cx="235.5" cy="921.8" rx="2.05" ry="2.05"/><ellipse cx="243.8" cy="922.9" rx="2.05" ry="2.05"/><ellipse cx="234.4" cy="926.8" rx="2.05" ry="2.05"/><ellipse cx="238" cy="931.5" rx="2.05" ry="2.05"/><ellipse cx="212.6" cy="928.3" rx="2.05" ry="2.05"/><ellipse cx="204" cy="934.9" rx="2.05" ry="2.05"/><ellipse cx="225" cy="934.6" rx="2.05" ry="2.05"/><ellipse cx="209" cy="940.8" rx="2.05" ry="2.05"/><ellipse cx="200.1" cy="945.2" rx="2.05" ry="2.05"/><ellipse cx="207.1" cy="947.1" rx="2.05" ry="2.05"/><ellipse cx="218" cy="946.3" rx="2.05" ry="2.05"/><ellipse cx="201.6" cy="954.9" rx="2.05" ry="2.05"/><ellipse cx="214.6" cy="951.4" rx="2.05" ry="2.05"/><ellipse cx="215.2" cy="956.4" rx="2.05" ry="2.05"/><ellipse cx="227.1" cy="948.3" rx="2.05" ry="2.05"/><ellipse cx="228.9" cy="951.7" rx="2.05" ry="2.05"/><ellipse cx="236.7" cy="954.5" rx="2.05" ry="2.05"/><ellipse cx="221.1" cy="961.1" rx="2.05" ry="2.05"/><ellipse cx="245.3" cy="940" rx="2.05" ry="2.05"/><ellipse cx="246.1" cy="936.9" rx="2.05" ry="2.05"/><ellipse cx="248" cy="943.9" rx="2.05" ry="2.05"/><ellipse cx="247.7" cy="958" rx="2.05" ry="2.05"/><ellipse cx="266.8" cy="888.6" rx="2.05" ry="2.05"/><ellipse cx="253.3" cy="898.4" rx="2.05" ry="2.05"/><ellipse cx="258.7" cy="899.5" rx="2.05" ry="2.05"/><ellipse cx="261.5" cy="900" rx="2.05" ry="2.05"/><ellipse cx="267.3" cy="898.7" rx="2.05" ry="2.05"/><ellipse cx="268.9" cy="895.3" rx="2.05" ry="2.05"/><ellipse cx="275.6" cy="891.7" rx="2.05" ry="2.05"/><ellipse cx="276.2" cy="895.3" rx="2.05" ry="2.05"/><ellipse cx="281.3" cy="890.6" rx="2.05" ry="2.05"/><ellipse cx="287.6" cy="894.8" rx="2.05" ry="2.05"/><ellipse cx="291.2" cy="893.7" rx="2.05" ry="2.05"/><ellipse cx="310.2" cy="894.4" rx="2.05" ry="2.05"/><ellipse cx="308.3" cy="897.9" rx="2.05" ry="2.05"/><ellipse cx="301.6" cy="902.6" rx="2.05" ry="2.05"/><ellipse cx="280.9" cy="905" rx="2.05" ry="2.05"/><ellipse cx="252.2" cy="908.9" rx="2.05" ry="2.05"/><ellipse cx="257.9" cy="907.8" rx="2.05" ry="2.05"/><ellipse cx="263.1" cy="907.3" rx="2.05" ry="2.05"/><ellipse cx="257.2" cy="913.1" rx="2.05" ry="2.05"/><ellipse cx="265.7" cy="913.5" rx="2.05" ry="2.05"/><ellipse cx="269.3" cy="912" rx="2.05" ry="2.05"/><ellipse cx="289.1" cy="907.8" rx="2.05" ry="2.05"/><ellipse cx="291.2" cy="908.9" rx="2.05" ry="2.05"/><ellipse cx="290.2" cy="917.1" rx="2.05" ry="2.05"/><ellipse cx="293" cy="915.6" rx="2.05" ry="2.05"/><ellipse cx="305.5" cy="918.2" rx="2.05" ry="2.05"/><ellipse cx="307.9" cy="919.3" rx="2.05" ry="2.05"/><ellipse cx="279.8" cy="917.1" rx="2.05" ry="2.05"/><ellipse cx="275.6" cy="918.7" rx="2.05" ry="2.05"/><ellipse cx="279.8" cy="920.9" rx="2.05" ry="2.05"/><ellipse cx="272" cy="922.4" rx="2.05" ry="2.05"/><ellipse cx="252.2" cy="923.7" rx="2.05" ry="2.05"/><ellipse cx="297.4" cy="927.6" rx="2.05" ry="2.05"/><ellipse cx="276.7" cy="930.2" rx="2.05" ry="2.05"/><ellipse cx="279.8" cy="935.4" rx="2.05" ry="2.05"/><ellipse cx="257.2" cy="929.9" rx="2.05" ry="2.05"/><ellipse cx="259" cy="933.8" rx="2.05" ry="2.05"/><ellipse cx="266.8" cy="929.1" rx="2.05" ry="2.05"/><ellipse cx="250.9" cy="939" rx="2.05" ry="2.05"/><ellipse cx="254.8" cy="937.4" rx="2.05" ry="2.05"/><ellipse cx="254" cy="947.9" rx="2.05" ry="2.05"/><ellipse cx="256.9" cy="950.2" rx="2.05" ry="2.05"/><ellipse cx="255.6" cy="955.2" rx="2.05" ry="2.05"/><ellipse cx="255.3" cy="961.1" rx="2.05" ry="2.05"/><ellipse cx="298.5" cy="954.6" rx="2.05" ry="2.05"/><ellipse cx="245.9" cy="975.5" rx="2.05" ry="2.05"/></g>
<path d="M295.71,878.53 L295.06,877.97 L294.29,877.54 L293.41,877.23 L292.42,877.04 L291.33,876.97 L290.13,877.02 L288.83,877.2 L287.44,877.49 L285.96,877.91 L284.38,878.45 L282.72,879.11 L280.99,879.89 L279.17,880.77 L277.29,881.78 L275.34,882.89 L273.34,884.1 L271.28,885.42 L269.17,886.84 L267.02,888.36 L264.83,889.97 L262.61,891.66 L260.37,893.44 L258.11,895.29 L255.84,897.21 L253.56,899.21 L251.28,901.26 L249.01,903.37 L246.75,905.53 L244.51,907.74 L242.3,909.98 L240.11,912.26 L237.97,914.56 L235.87,916.88 L233.81,919.21 L231.81,921.55 L229.87,923.9 L228,926.23 L226.2,928.55 L224.47,930.86 L222.82,933.14 L221.26,935.39 L219.78,937.6 L218.4,939.76 L217.12,941.88 L215.93,943.94 L214.85,945.94 L213.88,947.88 L213.01,949.74 L212.26,951.52 L211.62,953.23 L211.09,954.85 L210.68,956.37 L210.39,957.8 L210.22,959.14 L210.17,960.37 L210.24,961.49 L210.42,962.51 L210.73,963.41 L211.15,964.2 L211.69,964.87 L212.34,965.43 L213.11,965.86 L213.99,966.17 L214.98,966.36 L216.07,966.43 L217.27,966.38 L218.57,966.2 L219.96,965.91 L221.44,965.49 L223.02,964.95 L224.68,964.29 L226.41,963.51 L228.23,962.63 L230.11,961.62 L232.06,960.51 L234.06,959.3 L236.12,957.98 L238.23,956.56 L240.38,955.04 L242.57,953.43 L244.79,951.74 L247.03,949.96 L249.29,948.11 L251.56,946.19 L253.84,944.19 L256.12,942.14 L258.39,940.03 L260.65,937.87 L262.89,935.66 L265.1,933.42 L267.29,931.14 L269.43,928.84 L271.53,926.52 L273.59,924.19 L275.59,921.85 L277.53,919.5 L279.4,917.17 L281.2,914.85 L282.93,912.54 L284.58,910.26 L286.14,908.01 L287.62,905.8 L289,903.64 L290.28,901.52 L291.47,899.46 L292.55,897.46 L293.52,895.52 L294.39,893.66 L295.14,891.88 L295.78,890.17 L296.31,888.55 L296.72,887.03 L297.01,885.6 L297.18,884.26 L297.23,883.03 L297.16,881.91 L296.98,880.89 L296.67,879.99 L296.25,879.2 Z" fill="none" stroke="#000" stroke-width="2"/>
<line x1="253.7" y1="921.7" x2="211.69" y2="964.87" stroke="#000" stroke-width="1.6"/>
<line x1="253.7" y1="921.7" x2="265.1" y2="933.42" stroke="#000" stroke-width="1.6"/>
<line x1="253.7" y1="921.7" x2="295.71" y2="878.53" stroke="#1d9a1d" stroke-width="4"/>
<line x1="253.7" y1="921.7" x2="242.3" y2="909.98" stroke="#8c1010" stroke-width="4"/>
<rect x="133" y="819.5" width="221.5" height="228" fill="none" stroke="#1a1a1a" stroke-width="1.5"/>
<path d="M158,1047.5V1044.5M158,819.5V822.5M206.5,1047.5V1044.5M206.5,819.5V822.5M255,1047.5V1044.5M255,819.5V822.5M303.5,1047.5V1044.5M303.5,819.5V822.5M352,1047.5V1044.5M352,819.5V822.5M133,1021.18H136M354.5,1021.18H351.5M133,971.34H136M354.5,971.34H351.5M133,921.5H136M354.5,921.5H351.5M133,871.66H136M354.5,871.66H351.5M133,821.82H136M354.5,821.82H351.5" stroke="#1a1a1a" stroke-width="1.3" fill="none"/>
<text transform="translate(158,1065) scale(0.9,1)" font-size="12.5" text-anchor="middle" font-weight="normal" fill="#2a2a2a" >-0.4</text>
<text transform="translate(206.5,1065) scale(0.9,1)" font-size="12.5" text-anchor="middle" font-weight="normal" fill="#2a2a2a" >-0.2</text>
<text transform="translate(255,1065) scale(0.9,1)" font-size="12.5" text-anchor="middle" font-weight="normal" fill="#2a2a2a" >0</text>
<text transform="translate(303.5,1065) scale(0.9,1)" font-size="12.5" text-anchor="middle" font-weight="normal" fill="#2a2a2a" >0.2</text>
<text transform="translate(352,1065) scale(0.9,1)" font-size="12.5" text-anchor="middle" font-weight="normal" fill="#2a2a2a" >0.4</text>
<text transform="translate(125.4,1025.78) scale(0.9,1)" font-size="12.5" text-anchor="end" font-weight="normal" fill="#2a2a2a" >-0.4</text>
<text transform="translate(125.4,975.94) scale(0.9,1)" font-size="12.5" text-anchor="end" font-weight="normal" fill="#2a2a2a" >-0.2</text>
<text transform="translate(125.4,926.1) scale(0.9,1)" font-size="12.5" text-anchor="end" font-weight="normal" fill="#2a2a2a" >0</text>
<text transform="translate(125.4,876.26) scale(0.9,1)" font-size="12.5" text-anchor="end" font-weight="normal" fill="#2a2a2a" >0.2</text>
<text transform="translate(125.4,827.42) scale(0.9,1)" font-size="12.5" text-anchor="end" font-weight="normal" fill="#2a2a2a" >0.4</text>
<text x="181.5" y="851.4" font-size="11.6" text-anchor="start" font-weight="normal" fill="#a81c1c" >SD1</text>
<text x="335.3" y="850.2" font-size="11.6" text-anchor="start" font-weight="normal" fill="#2aa02a" >SD2</text>
<text x="44.4" y="930.5" font-size="14" fill="#222">APD<tspan font-size="8.2" font-weight="bold" dy="2.9">n+1</tspan></text>
<text x="53" y="946.5" font-size="14" fill="#222">(ms)</text>
<text x="210.6" y="1098.6" font-size="14" fill="#222">APD<tspan font-size="8.2" font-weight="bold" dy="2.6">n</tspan><tspan dy="-2.6"> (ms)</tspan></text>
<line x1="494.6" y1="943.7" x2="574.3" y2="1025.3" stroke="#383838" stroke-width="1"/>
<circle cx="494.6" cy="943.7" r="1.4" fill="#111"/>
<line x1="493.9" y1="1027.6" x2="678.7" y2="837.6" stroke="#383838" stroke-width="1"/>
<path d="M678.7,837.6 L678.56,842.48 L673.82,837.88 Z" fill="#111"/>
<g fill="#0036c8"><ellipse cx="583.2" cy="836.7" rx="1.9" ry="1.9"/><ellipse cx="522.8" cy="907.9" rx="1.9" ry="1.9"/><ellipse cx="493" cy="933.7" rx="1.9" ry="1.9"/><ellipse cx="608.6" cy="920" rx="1.9" ry="1.9"/><ellipse cx="677.6" cy="934" rx="1.9" ry="1.9"/><ellipse cx="583.4" cy="998" rx="1.9" ry="1.9"/><ellipse cx="597.4" cy="1008.4" rx="1.9" ry="1.9"/><ellipse cx="532.8" cy="1027.2" rx="1.9" ry="1.9"/><ellipse cx="511.1" cy="981.6" rx="1.9" ry="1.9"/><ellipse cx="517.4" cy="983.5" rx="1.9" ry="1.9"/><ellipse cx="536.6" cy="965.2" rx="1.9" ry="1.9"/><ellipse cx="547.7" cy="962.2" rx="1.9" ry="1.9"/><ellipse cx="552.1" cy="961.6" rx="1.9" ry="1.9"/><ellipse cx="555.3" cy="962.2" rx="1.9" ry="1.9"/><ellipse cx="557" cy="963.5" rx="1.9" ry="1.9"/><ellipse cx="555.7" cy="968.2" rx="1.9" ry="1.9"/><ellipse cx="554" cy="977.3" rx="1.9" ry="1.9"/><ellipse cx="552.9" cy="988.9" rx="1.9" ry="1.9"/><ellipse cx="508.9" cy="998.8" rx="1.9" ry="1.9"/><ellipse cx="509.4" cy="1001.4" rx="1.9" ry="1.9"/><ellipse cx="512.8" cy="1001.4" rx="1.9" ry="1.9"/><ellipse cx="514.5" cy="996.3" rx="1.9" ry="1.9"/><ellipse cx="510.2" cy="1006.1" rx="1.9" ry="1.9"/><ellipse cx="508.1" cy="1009.9" rx="1.9" ry="1.9"/><ellipse cx="513.6" cy="1010.7" rx="1.9" ry="1.9"/><ellipse cx="513.6" cy="1008.2" rx="1.9" ry="1.9"/><ellipse cx="517.9" cy="1006.1" rx="1.9" ry="1.9"/><ellipse cx="521.3" cy="1006.1" rx="1.9" ry="1.9"/><ellipse cx="523.8" cy="1006.1" rx="1.9" ry="1.9"/><ellipse cx="516.2" cy="1000.1" rx="1.9" ry="1.9"/><ellipse cx="535.77" cy="975.75" rx="1.9" ry="1.9"/><ellipse cx="542.89" cy="970.88" rx="1.9" ry="1.9"/><ellipse cx="522" cy="987.07" rx="1.9" ry="1.9"/><ellipse cx="530.23" cy="988.13" rx="1.9" ry="1.9"/><ellipse cx="530.56" cy="986.45" rx="1.9" ry="1.9"/><ellipse cx="536.47" cy="980.03" rx="1.9" ry="1.9"/><ellipse cx="543.28" cy="984.89" rx="1.9" ry="1.9"/><ellipse cx="532.28" cy="980.73" rx="1.9" ry="1.9"/><ellipse cx="547.98" cy="975.62" rx="1.9" ry="1.9"/><ellipse cx="520.77" cy="989.55" rx="1.9" ry="1.9"/><ellipse cx="546.97" cy="968.21" rx="1.9" ry="1.9"/><ellipse cx="523.44" cy="980.33" rx="1.9" ry="1.9"/><ellipse cx="536.53" cy="978.23" rx="1.9" ry="1.9"/><ellipse cx="541.5" cy="985.46" rx="1.9" ry="1.9"/><ellipse cx="529.67" cy="991.69" rx="1.9" ry="1.9"/><ellipse cx="520.68" cy="987.86" rx="1.9" ry="1.9"/><ellipse cx="519.34" cy="992.35" rx="1.9" ry="1.9"/><ellipse cx="528.49" cy="993.98" rx="1.9" ry="1.9"/><ellipse cx="525.76" cy="982.18" rx="1.9" ry="1.9"/><ellipse cx="536" cy="995.71" rx="1.9" ry="1.9"/><ellipse cx="546.15" cy="981.25" rx="1.9" ry="1.9"/><ellipse cx="540.56" cy="968.17" rx="1.9" ry="1.9"/><ellipse cx="539.43" cy="989.49" rx="1.9" ry="1.9"/><ellipse cx="527.56" cy="989.99" rx="1.9" ry="1.9"/><ellipse cx="533.77" cy="987.38" rx="1.9" ry="1.9"/><ellipse cx="524.41" cy="999.27" rx="1.9" ry="1.9"/><ellipse cx="521.53" cy="982.64" rx="1.9" ry="1.9"/><ellipse cx="526.5" cy="998.57" rx="1.9" ry="1.9"/><ellipse cx="520.67" cy="993.54" rx="1.9" ry="1.9"/><ellipse cx="550.21" cy="974.45" rx="1.9" ry="1.9"/><ellipse cx="532.87" cy="994.65" rx="1.9" ry="1.9"/><ellipse cx="547.15" cy="972.98" rx="1.9" ry="1.9"/><ellipse cx="536.3" cy="986.11" rx="1.9" ry="1.9"/><ellipse cx="544.4" cy="981.94" rx="1.9" ry="1.9"/><ellipse cx="529" cy="987.72" rx="1.9" ry="1.9"/><ellipse cx="548.77" cy="981.49" rx="1.9" ry="1.9"/><ellipse cx="524.66" cy="988.94" rx="1.9" ry="1.9"/><ellipse cx="537.04" cy="969.45" rx="1.9" ry="1.9"/><ellipse cx="525.94" cy="991.19" rx="1.9" ry="1.9"/><ellipse cx="527.14" cy="978.99" rx="1.9" ry="1.9"/><ellipse cx="532.87" cy="985.06" rx="1.9" ry="1.9"/><ellipse cx="526.99" cy="994.73" rx="1.9" ry="1.9"/><ellipse cx="535.27" cy="997.35" rx="1.9" ry="1.9"/><ellipse cx="529.21" cy="996.35" rx="1.9" ry="1.9"/><ellipse cx="544.32" cy="970.81" rx="1.9" ry="1.9"/><ellipse cx="544" cy="989.7" rx="1.9" ry="1.9"/><ellipse cx="545.3" cy="987.91" rx="1.9" ry="1.9"/><ellipse cx="523.06" cy="988.8" rx="1.9" ry="1.9"/><ellipse cx="532.42" cy="989.66" rx="1.9" ry="1.9"/><ellipse cx="534.84" cy="977.72" rx="1.9" ry="1.9"/><ellipse cx="541.39" cy="974.81" rx="1.9" ry="1.9"/><ellipse cx="534.05" cy="984.27" rx="1.9" ry="1.9"/><ellipse cx="528.81" cy="985.55" rx="1.9" ry="1.9"/><ellipse cx="536.67" cy="983.8" rx="1.9" ry="1.9"/><ellipse cx="536.64" cy="972.37" rx="1.9" ry="1.9"/><ellipse cx="526.22" cy="985.3" rx="1.9" ry="1.9"/><ellipse cx="537.7" cy="974.62" rx="1.9" ry="1.9"/><ellipse cx="549.06" cy="971.3" rx="1.9" ry="1.9"/><ellipse cx="522.58" cy="993.9" rx="1.9" ry="1.9"/><ellipse cx="528.65" cy="980.41" rx="1.9" ry="1.9"/><ellipse cx="535.77" cy="970.96" rx="1.9" ry="1.9"/><ellipse cx="544.68" cy="972.78" rx="1.9" ry="1.9"/><ellipse cx="546.29" cy="974.74" rx="1.9" ry="1.9"/><ellipse cx="538.01" cy="987.07" rx="1.9" ry="1.9"/><ellipse cx="541.64" cy="988.56" rx="1.9" ry="1.9"/><ellipse cx="531.2" cy="978.34" rx="1.9" ry="1.9"/><ellipse cx="540.01" cy="992.91" rx="1.9" ry="1.9"/></g>
<path d="M550.19,968.02 L549.74,967.6 L549.24,967.23 L548.7,966.91 L548.12,966.63 L547.5,966.4 L546.84,966.23 L546.15,966.1 L545.42,966.03 L544.66,966.01 L543.88,966.03 L543.06,966.11 L542.22,966.24 L541.36,966.42 L540.48,966.65 L539.58,966.93 L538.66,967.25 L537.73,967.63 L536.79,968.05 L535.84,968.51 L534.89,969.02 L533.93,969.58 L532.98,970.17 L532.02,970.8 L531.07,971.47 L530.13,972.18 L529.2,972.92 L528.28,973.7 L527.38,974.5 L526.5,975.33 L525.63,976.19 L524.79,977.07 L523.98,977.97 L523.19,978.88 L522.43,979.82 L521.7,980.77 L521,981.72 L520.34,982.69 L519.72,983.66 L519.14,984.63 L518.6,985.61 L518.09,986.58 L517.64,987.54 L517.22,988.5 L516.86,989.44 L516.53,990.38 L516.26,991.29 L516.04,992.19 L515.86,993.07 L515.73,993.93 L515.66,994.75 L515.63,995.56 L515.65,996.33 L515.73,997.07 L515.85,997.77 L516.02,998.44 L516.24,999.07 L516.51,999.66 L516.83,1000.21 L517.2,1000.72 L517.61,1001.18 L518.06,1001.6 L518.56,1001.97 L519.1,1002.29 L519.68,1002.57 L520.3,1002.8 L520.96,1002.97 L521.65,1003.1 L522.38,1003.17 L523.14,1003.19 L523.92,1003.17 L524.74,1003.09 L525.58,1002.96 L526.44,1002.78 L527.32,1002.55 L528.22,1002.27 L529.14,1001.95 L530.07,1001.57 L531.01,1001.15 L531.96,1000.69 L532.91,1000.18 L533.87,999.62 L534.82,999.03 L535.78,998.4 L536.73,997.73 L537.67,997.02 L538.6,996.28 L539.52,995.5 L540.42,994.7 L541.3,993.87 L542.17,993.01 L543.01,992.13 L543.82,991.23 L544.61,990.32 L545.37,989.38 L546.1,988.43 L546.8,987.48 L547.46,986.51 L548.08,985.54 L548.66,984.57 L549.2,983.59 L549.71,982.62 L550.16,981.66 L550.58,980.7 L550.94,979.76 L551.27,978.82 L551.54,977.91 L551.76,977.01 L551.94,976.13 L552.07,975.27 L552.14,974.45 L552.17,973.64 L552.15,972.87 L552.07,972.13 L551.95,971.43 L551.78,970.76 L551.56,970.13 L551.29,969.54 L550.97,968.99 L550.6,968.48 Z" fill="none" stroke="#000" stroke-width="2.2"/>
<line x1="533.9" y1="984.6" x2="517.61" y2="1001.18" stroke="#000" stroke-width="1.8"/>
<line x1="533.9" y1="984.6" x2="542.17" y2="993.01" stroke="#000" stroke-width="1.8"/>
<line x1="533.9" y1="984.6" x2="550.19" y2="968.02" stroke="#1d9a1d" stroke-width="4"/>
<line x1="533.9" y1="984.6" x2="525.63" y2="976.19" stroke="#8c1010" stroke-width="4"/>
<rect x="475.5" y="818.5" width="221" height="228" fill="none" stroke="#1a1a1a" stroke-width="1.2"/>
<path d="M478.2,1046.5V1043.9M478.2,818.5V821.1M534.4,1046.5V1043.9M534.4,818.5V821.1M590.6,1046.5V1043.9M590.6,818.5V821.1M646.8,1046.5V1043.9M646.8,818.5V821.1M475.5,1042H478.1M696.5,1042H693.9M475.5,984.8H478.1M696.5,984.8H693.9M475.5,927.6H478.1M696.5,927.6H693.9M475.5,870.4H478.1M696.5,870.4H693.9" stroke="#1a1a1a" stroke-width="1.3" fill="none"/>
<text transform="translate(478.2,1064.2) scale(0.95,1)" font-size="13.2" text-anchor="middle" font-weight="normal" fill="#2a2a2a" >-1</text>
<text transform="translate(534.4,1064.2) scale(0.95,1)" font-size="13.2" text-anchor="middle" font-weight="normal" fill="#2a2a2a" >0</text>
<text transform="translate(590.6,1064.2) scale(0.95,1)" font-size="13.2" text-anchor="middle" font-weight="normal" fill="#2a2a2a" >1</text>
<text transform="translate(646.8,1064.2) scale(0.95,1)" font-size="13.2" text-anchor="middle" font-weight="normal" fill="#2a2a2a" >2</text>
<text transform="translate(468.2,1046.6) scale(0.95,1)" font-size="13.2" text-anchor="end" font-weight="normal" fill="#2a2a2a" >-1</text>
<text transform="translate(468.2,989.4) scale(0.95,1)" font-size="13.2" text-anchor="end" font-weight="normal" fill="#2a2a2a" >0</text>
<text transform="translate(468.2,932.2) scale(0.95,1)" font-size="13.2" text-anchor="end" font-weight="normal" fill="#2a2a2a" >1</text>
<text transform="translate(468.2,875) scale(0.95,1)" font-size="13.2" text-anchor="end" font-weight="normal" fill="#2a2a2a" >2</text>
<text x="497.6" y="955.2" font-size="11.4" text-anchor="start" font-weight="normal" fill="#a81c1c" >SD1</text>
<text x="677.4" y="850" font-size="11.6" text-anchor="start" font-weight="normal" fill="#2aa02a" >SD2</text>
<text x="400" y="930.4" font-size="14" fill="#222">APD<tspan font-size="8.2" font-weight="bold" dy="2.9">n+1</tspan></text>
<text x="408" y="947.1" font-size="14" fill="#222">(ms)</text>
<text x="553.6" y="1098.6" font-size="14" fill="#222">APD<tspan font-size="8.2" font-weight="bold" dy="2.6">n</tspan><tspan dy="-2.6"> (ms)</tspan></text>
</svg></body></html>
